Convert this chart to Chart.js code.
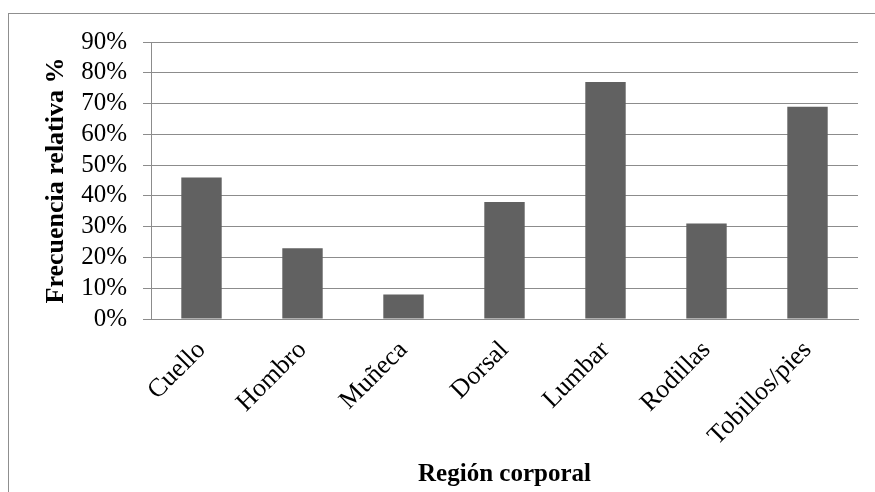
<!DOCTYPE html>
<html lang="es">
<head>
<meta charset="utf-8">
<title>Frecuencia relativa por región corporal</title>
<script src="https://cdn.jsdelivr.net/npm/chart.js@4.4.1/dist/chart.umd.min.js"></script>
<style>
  html, body { margin: 0; padding: 0; background: #ffffff; }
  #wrap { position: relative; width: 875px; height: 492px; overflow: hidden; }
  #frame {
    position: absolute; left: 8px; top: 13px; width: 900px; height: 520px;
    border-left: 1px solid #8f8f8f; border-top: 1px solid #8f8f8f;
  }
  #chart { position: absolute; left: 0; top: 0; }
</style>
</head>
<body>
<div id="wrap">
  <div id="frame"></div>
  <canvas id="chart" width="875" height="492"></canvas>
</div>
<script>
// Body regions and relative frequency (%) of reported pain
const regiones = ['Cuello', 'Hombro', 'Muñeca', 'Dorsal', 'Lumbar', 'Rodillas', 'Tobillos/pies'];
const frecuencia = [46, 23, 8, 38, 77, 31, 69];
const yTicks = [0, 10, 20, 30, 40, 50, 60, 70, 80, 90];

const serif = "'Liberation Serif', 'Times New Roman', serif";
const gridGray = '#8c8c8c';

new Chart(document.getElementById('chart'), {
  type: 'bar',
  data: {
    labels: regiones,
    datasets: [{
      data: frecuencia,
      backgroundColor: '#616161',
      borderWidth: 0,
      categoryPercentage: 1.0,
      barPercentage: 0.4
    }]
  },
  options: {
    responsive: false,
    animation: false,
    layout: { padding: { left: 0, top: 42, right: 17, bottom: 0 } },
    plugins: {
      legend: { display: false },
      tooltip: { enabled: false }
    },
    scales: {
      x: {
        grid: { display: false },
        border: { display: true, color: gridGray, width: 1 },
        ticks: {
          color: '#000',
          font: { family: serif, size: 26 },
          minRotation: 45,
          maxRotation: 45,
          padding: 8,
          autoSkip: false
        },
        title: {
          display: true,
          text: 'Región corporal',
          color: '#000',
          font: { family: serif, size: 25, weight: 'bold' },
          padding: { top: 0, bottom: 2 }
        },
        afterFit: (s) => { s.height = 173; }
      },
      y: {
        min: 0,
        max: 90,
        afterBuildTicks: (s) => { s.ticks = yTicks.map(v => ({ value: v })); },
        grid: { color: gridGray, lineWidth: 1, tickLength: 8, drawTicks: true },
        border: { display: true, color: gridGray, width: 1 },
        ticks: {
          color: '#000',
          font: { family: serif, size: 25 },
          padding: 16,
          autoSkip: false,
          callback: (v) => v + '%'
        },
        title: {
          display: true,
          text: 'Frecuencia relativa %',
          color: '#000',
          font: { family: serif, size: 26, weight: 'bold' },
          padding: { top: 41, bottom: 0 }
        },
        afterFit: (s) => { s.width = 151; }
      }
    }
  }
});
</script>
</body>
</html>
